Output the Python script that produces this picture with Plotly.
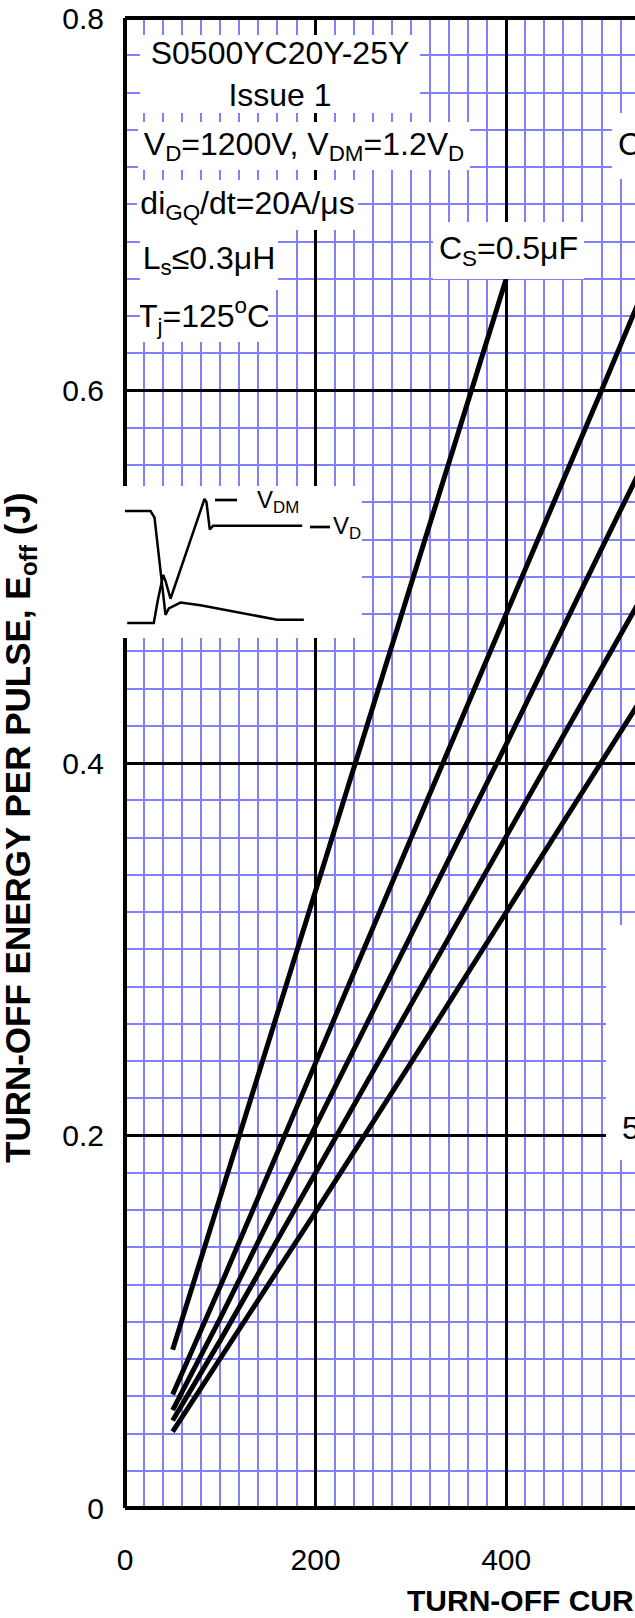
import plotly.graph_objects as go

# ---------------- data ----------------
current_cs05 = [50, 100, 200, 300, 400]
energy_cs05 = [0.085, 0.167, 0.330, 0.495, 0.660]

current = [50, 100, 200, 300, 400, 500, 550]
energy_c2 = [0.061, 0.119, 0.239, 0.360, 0.480, 0.600, 0.661]
energy_c3 = [0.0526, 0.102, 0.205, 0.308, 0.410, 0.515, 0.567]
energy_c4 = [0.047, 0.090, 0.180, 0.270, 0.361, 0.451, 0.496]
energy_c5 = [0.041, 0.080, 0.159, 0.239, 0.320, 0.400, 0.441]

x_tickvals = [0, 200, 400]
x_ticktext = ["0", "200", "400"]
y_tickvals = [0, 0.2, 0.4, 0.6, 0.8]
y_ticktext = ["0", "0.2", "0.4", "0.6", "0.8"]

# inset waveform (schematic units)
inset_range_t = [0, 237]
inset_range_a = [0, 154]
inset_t_v = [2.2, 28.8, 32.8, 38.2, 40.5, 45.5, 79.5, 81.5, 84.8, 88.2, 177.2]
inset_v = [13.3, 13.3, 36.7, 62.7, 56.7, 38.3, 140.7, 137.3, 109.3, 113.3, 113.3]
inset_t_i = [0, 25.5, 29.5, 35.5, 40.5, 43.8, 55.5, 75.5, 152.2, 178.8]
inset_i = [128.3, 128.3, 121.7, 70, 21.7, 28.3, 34.3, 31.7, 16.7, 16.7]

# ---------------- layout geometry ----------------
W, H = 635, 1618
ML, MR, MT, MB = 125, 0, 18, 110
PW, PH = W - ML - MR, H - MT - MB
FONT = "Arial, Liberation Sans, sans-serif"
BLUE = "#8080ff"


def px(xp):
    return (xp - ML) / PW


def py(yp):
    return (MT + PH - yp) / PH


fig = go.Figure()

line_style = dict(color="black", width=5)
fig.add_trace(go.Scatter(x=current_cs05, y=energy_cs05, mode="lines", line=line_style))
for e in (energy_c2, energy_c3, energy_c4, energy_c5):
    fig.add_trace(go.Scatter(x=current, y=e, mode="lines", line=line_style))

# inset white panel + waveform
t0, t1 = inset_range_t
a0, a1 = inset_range_a
fig.add_trace(go.Scatter(x=[t0, t1, t1, t0, t0], y=[a0, a0, a1, a1, a0], mode="lines",
                         fill="toself", fillcolor="white", line=dict(width=0),
                         xaxis="x2", yaxis="y2", hoverinfo="skip"))
wave_style = dict(color="black", width=2.5)
fig.add_trace(go.Scatter(x=inset_t_v, y=inset_v, mode="lines", line=wave_style,
                         xaxis="x2", yaxis="y2"))
fig.add_trace(go.Scatter(x=inset_t_i, y=inset_i, mode="lines", line=wave_style,
                         xaxis="x2", yaxis="y2"))

tickfont = dict(family=FONT, size=30, color="black")
fig.update_layout(
    width=W, height=H,
    margin=dict(l=ML, r=MR, t=MT, b=MB),
    paper_bgcolor="white", plot_bgcolor="white",
    showlegend=False,
    xaxis=dict(range=[0, PW / 0.953], domain=[0, 1], tickmode="array",
               tickvals=x_tickvals, ticktext=x_ticktext, tickfont=tickfont,
               showgrid=True, gridcolor="black", gridwidth=3,
               minor=dict(tick0=0, dtick=20, showgrid=True, gridcolor=BLUE, gridwidth=1.5),
               zeroline=False, showline=False, ticks="", ticklabelstandoff=31),
    yaxis=dict(range=[0, 0.8], domain=[0, 1], tickmode="array",
               tickvals=y_tickvals, ticktext=y_ticktext, tickfont=tickfont,
               showgrid=True, gridcolor="black", gridwidth=3,
               minor=dict(tick0=0, dtick=0.02, showgrid=True, gridcolor=BLUE, gridwidth=1.5),
               zeroline=False, showline=False, ticks="", ticklabelstandoff=20),
    xaxis2=dict(domain=[0, px(362)], range=inset_range_t, anchor="y2", visible=False,
                showgrid=False, zeroline=False),
    yaxis2=dict(domain=[py(638), py(486)], range=[inset_range_a[0] - 2, inset_range_a[1]],
                anchor="x2", visible=False, showgrid=False, zeroline=False),
)

# frame
border = dict(color="black", width=4)
fig.add_shape(type="line", xref="paper", yref="paper", x0=0, x1=1.05, y0=1, y1=1, line=border)
fig.add_shape(type="line", xref="paper", yref="paper", x0=0, x1=1.05, y0=0, y1=0, line=border)
fig.add_shape(type="line", xref="paper", yref="paper", x0=0, x1=0, y0=0, y1=py(638), line=border)
fig.add_shape(type="line", xref="paper", yref="paper", x0=0, x1=0, y0=py(486), y1=1, line=border)

# inset label leader dashes
dash = dict(color="black", width=2.7)
fig.add_shape(type="line", xref="paper", yref="paper", x0=px(215), x1=px(237), y0=py(500), y1=py(500), line=dash)
fig.add_shape(type="line", xref="paper", yref="paper", x0=px(310), x1=px(330), y0=py(527), y1=py(527), line=dash)


def box(text, cx, cy, w, h, size=32, align="center"):
    fig.add_annotation(text=text, xref="paper", yref="paper", x=px(cx), y=py(cy),
                       xanchor="center", yanchor="middle", showarrow=False,
                       width=w, height=h, bgcolor="white", borderpad=0, borderwidth=0,
                       align=align, font=dict(family=FONT, size=size, color="black"))


box("S0500YC20Y-25Y<br>Issue 1", 280, 74, 280, 78)
box("V<sub>D</sub>=1200V, V<sub>DM</sub>=1.2V<sub>D</sub>", 304, 146, 332, 48)
box("di<sub>GQ</sub>/dt=20A/μs", 247.5, 205, 221, 50)
box("L<sub>s</sub>≤0.3μH", 209, 260, 138, 60)
box("T<sub>j</sub>=125<sup>o</sup>C", 204, 316, 128, 52)
box("C<sub>S</sub>=0.5μF", 508.5, 250.5, 151, 57)
box("C<sub>S</sub>=1.0μF", 687.5, 146, 151, 66)
box("\u00a0", 656, 1042, 100, 235)


def label(text, xp, yp, size=24, xanchor="left"):
    fig.add_annotation(text=text, xref="paper", yref="paper", x=px(xp), y=py(yp),
                       xanchor=xanchor, yanchor="middle", showarrow=False,
                       font=dict(family=FONT, size=size, color="black"))


label("V<sub>DM</sub>", 255, 501)
label("V<sub>D</sub>", 331, 527)
label("5", 620, 1128, size=32)

# axis titles
fig.add_annotation(text="<b>TURN-OFF ENERGY PER PULSE, E<sub>off</sub> (J)</b>",
                   xref="paper", yref="paper", x=px(20), y=py(828), textangle=-90,
                   xanchor="center", yanchor="middle", showarrow=False,
                   font=dict(family=FONT, size=35, color="black"))
fig.add_annotation(text="<b>TURN-OFF CURRENT, I<sub>TGQ</sub> (A)</b>",
                   xref="paper", yref="paper", x=px(405), y=py(1602),
                   xanchor="left", yanchor="middle", showarrow=False,
                   font=dict(family=FONT, size=30, color="black"))

fig.write_html(
    "out.html",
    config={"displayModeBar": False},
    post_script="document.body.style.margin='0';"
                "document.body.style.overflow='hidden';"
                "document.documentElement.style.overflow='hidden';",
)
